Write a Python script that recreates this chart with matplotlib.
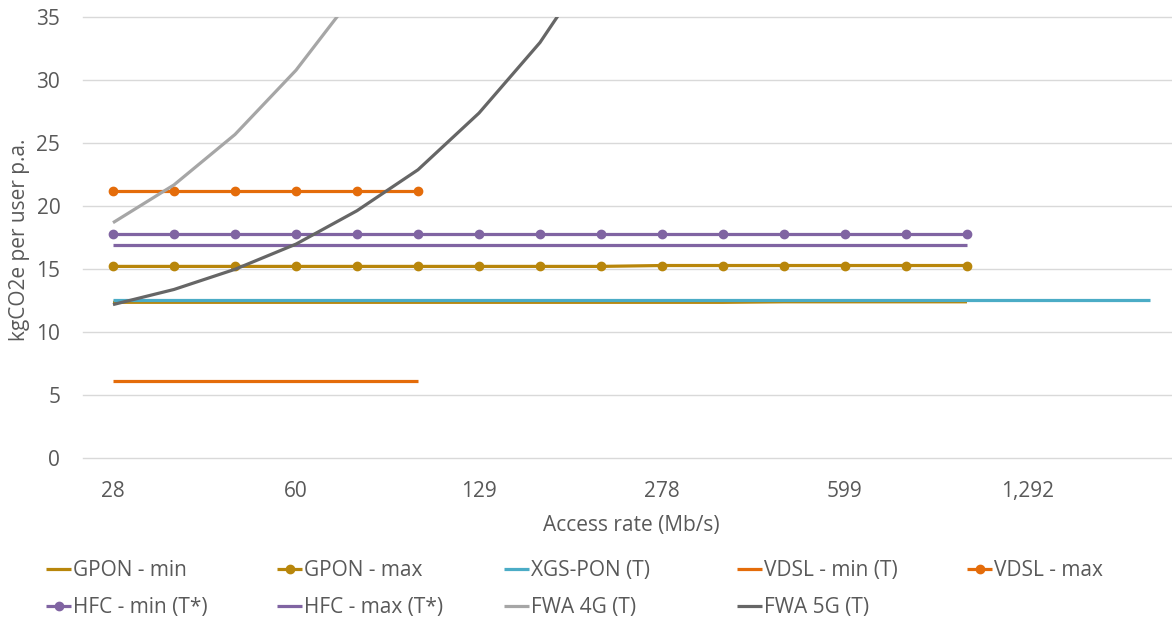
import numpy as np
import matplotlib
matplotlib.use("Agg")
import matplotlib.pyplot as plt

plt.rcParams['font.family'] = ['Open Sans', 'DejaVu Sans']

nan = np.nan
# Category axis (Access rate, Mb/s)
categories = [28, 36, 46, 60, 77, 100, 129, 167, 215, 278, 359, 464, 599, 773, 1000, 1292, 1668, 2154]
label_every = 3

gpon_min = [12.38] * 11 + [12.42] * 4 + [nan] * 3
gpon_max = [15.23] * 9 + [15.30] * 6 + [nan] * 3
xgs_pon = [12.56] * 18
vdsl_min = [6.13] * 6 + [nan] * 12
vdsl_max = [21.21] * 6 + [nan] * 12
hfc_min = [17.83] * 15 + [nan] * 3
hfc_max = [16.93] * 15 + [nan] * 3
fwa_4g = [18.7, 21.7, 25.7, 30.8, 37.1] + [nan] * 13
fwa_5g = [12.2, 13.4, 15.0, 17.0, 19.65, 22.9, 27.4, 33.0, 40.2] + [nan] * 9

series = [
    ("GPON - min", gpon_min, "#B8860B", False),
    ("GPON - max", gpon_max, "#B8860B", True),
    ("XGS-PON (T)", xgs_pon, "#4BACC6", False),
    ("VDSL - min (T)", vdsl_min, "#E46C0A", False),
    ("VDSL - max", vdsl_max, "#E46C0A", True),
    ("HFC - min (T*)", hfc_min, "#8064A2", True),
    ("HFC - max (T*)", hfc_max, "#8064A2", False),
    ("FWA 4G (T)", fwa_4g, "#A6A6A6", False),
    ("FWA 5G (T)", fwa_5g, "#666666", False),
]

yticks = [0, 5, 10, 15, 20, 25, 30, 35]
text_color = "#595959"
fs = 15

W, H = 1172, 617
fig = plt.figure(figsize=(W / 100, H / 100), dpi=100)
ax = fig.add_axes([82.5 / W, 1 - 458.3 / H, 1098 / W, 441 / H])

x = np.arange(len(categories))
handles = []
for name, vals, col, mk in series:
    (h,) = ax.plot(x, vals, color=col, lw=2.3, marker="o" if mk else None,
                   markersize=6, label=name, solid_capstyle="butt", clip_on=True)
    handles.append(h)

ax.set_xlim(-0.5, len(categories) - 0.5)
ax.set_ylim(0, 35)
ax.set_yticks(yticks)
ax.set_yticklabels([str(v) for v in yticks])
tick_pos = x[::label_every]
ax.set_xticks(tick_pos)
ax.set_xticklabels([f"{categories[i]:,}" for i in tick_pos])
ax.tick_params(axis="both", length=0, labelsize=fs, colors=text_color)
ax.tick_params(axis="y", pad=16)
ax.tick_params(axis="x", pad=16)
ax.grid(axis="y", color="#D9D9D9", lw=1)
for gl in ax.get_ygridlines():
    gl.set_clip_on(False)
ax.set_axisbelow(True)
for s in ax.spines.values():
    s.set_visible(False)

ax.set_xlabel("Access rate (Mb/s)", fontsize=fs, color=text_color, labelpad=10)
fig.text(20 / W, 1 - 240 / H, "kgCO2e per user p.a.", rotation=90, fontsize=fs,
         color=text_color, ha="center", va="center")

# legend: 5 columns, row-major order
col_x = [46, 277, 504, 737, 967]
for c in range(5):
    idx = [c, c + 5] if c + 5 < len(handles) else [c]
    hs = [handles[i] for i in idx]
    fig.legend(hs, [h.get_label() for h in hs], loc="upper left",
               bbox_to_anchor=(col_x[c] / W, 1 - 560 / H), frameon=False,
               fontsize=fs, labelcolor=text_color, handlelength=1.2,
               handletextpad=0.1, borderpad=0, borderaxespad=0, labelspacing=0.78,
               markerscale=1.0)

fig.savefig("out.png", dpi=100)
